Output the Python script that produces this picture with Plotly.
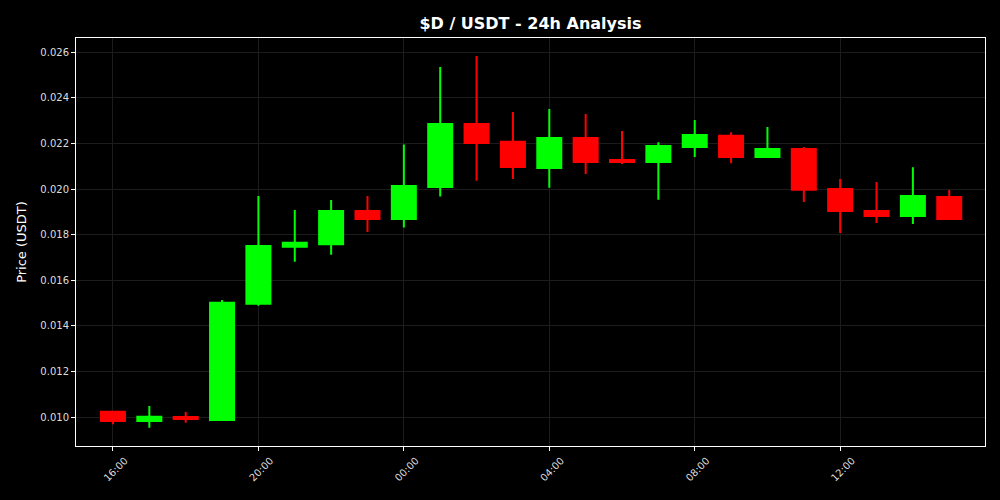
import plotly.graph_objects as go
import pandas as pd

times = pd.date_range("2024-01-01 16:00", periods=24, freq="h")
opens = [0.01023, 0.00983, 0.01000, 0.00987, 0.01497, 0.01747, 0.01758, 0.01904,
         0.01869, 0.02009, 0.02285, 0.02207, 0.02092, 0.02224, 0.02128, 0.02119,
         0.02185, 0.02234, 0.02141, 0.02176, 0.02000, 0.01904, 0.01882, 0.01965]
highs = [0.01026, 0.01048, 0.01022, 0.01513, 0.01970, 0.01908, 0.01952, 0.01970,
         0.02196, 0.02536, 0.02584, 0.02338, 0.02351, 0.02329, 0.02255, 0.02205,
         0.02303, 0.02249, 0.02272, 0.02185, 0.02044, 0.02031, 0.02096, 0.01996]
lows = [0.00968, 0.00953, 0.00975, 0.00985, 0.01488, 0.01681, 0.01712, 0.01812,
        0.01831, 0.01967, 0.02037, 0.02044, 0.02006, 0.02066, 0.02110, 0.01953,
        0.02141, 0.02113, 0.02138, 0.01943, 0.01807, 0.01851, 0.01847, 0.01864]
closes = [0.00983, 0.01001, 0.00991, 0.01501, 0.01750, 0.01765, 0.01904, 0.01869,
          0.02013, 0.02285, 0.02202, 0.02097, 0.02224, 0.02119, 0.02119, 0.02189,
          0.02237, 0.02141, 0.02176, 0.01997, 0.01904, 0.01882, 0.01970, 0.01869]

yticks = [0.010, 0.012, 0.014, 0.016, 0.018, 0.020, 0.022, 0.024, 0.026]
title_text = "$D / USDT - 24h Analysis"

fig = go.Figure(go.Candlestick(
    x=times, open=opens, high=highs, low=lows, close=closes,
    increasing=dict(line=dict(color="#00ff00", width=2), fillcolor="#00ff00"),
    decreasing=dict(line=dict(color="#ff0000", width=2), fillcolor="#ff0000"),
    whiskerwidth=0,
    showlegend=False,
))

fig.update_layout(
    width=1000, height=500,
    paper_bgcolor="#000000", plot_bgcolor="#000000",
    margin=dict(l=76, r=15, t=38, b=54),
    boxgap=0.34, boxgroupgap=0,
    font=dict(family="DejaVu Sans", color="#ffffff", size=10),
    title=dict(text=title_text, x=0.5305, xanchor="center", y=0.953, yanchor="middle",
               font=dict(family="DejaVu Sans", size=16, color="#ffffff", weight="bold")),
    xaxis=dict(
        type="date",
        range=[pd.Timestamp("2024-01-01 16:00") - pd.Timedelta(minutes=61),
               pd.Timestamp("2024-01-02 15:59")],
        rangeslider=dict(visible=False),
        tick0="2024-01-01 00:00", dtick=4 * 3600 * 1000,
        tickformat="%H:%M", tickangle=-45,
        ticks="outside", ticklen=4, tickwidth=1, tickcolor="#ffffff",
        tickfont=dict(size=10, color="#dddddd"),
        ticklabelshift=12,
        showgrid=True, gridcolor="#1c1c1c", gridwidth=1,
        showline=True, linecolor="#ffffff", linewidth=1, mirror=True,
        zeroline=False,
    ),
    yaxis=dict(
        range=[0.008728, 0.026627],
        tickvals=yticks, tickformat=".3f",
        ticks="outside", ticklen=4, tickwidth=1, tickcolor="#ffffff",
        tickfont=dict(size=10, color="#dddddd"),
        title=dict(text="Price (USDT)", font=dict(size=13, color="#ffffff"), standoff=10),
        showgrid=True, gridcolor="#1c1c1c", gridwidth=1,
        showline=True, linecolor="#ffffff", linewidth=1, mirror=True,
        zeroline=False,
    ),
)

fig.write_html("out.html", config={"displayModeBar": False},
               post_script="document.body.style.margin='0';document.body.style.background='#000';")
